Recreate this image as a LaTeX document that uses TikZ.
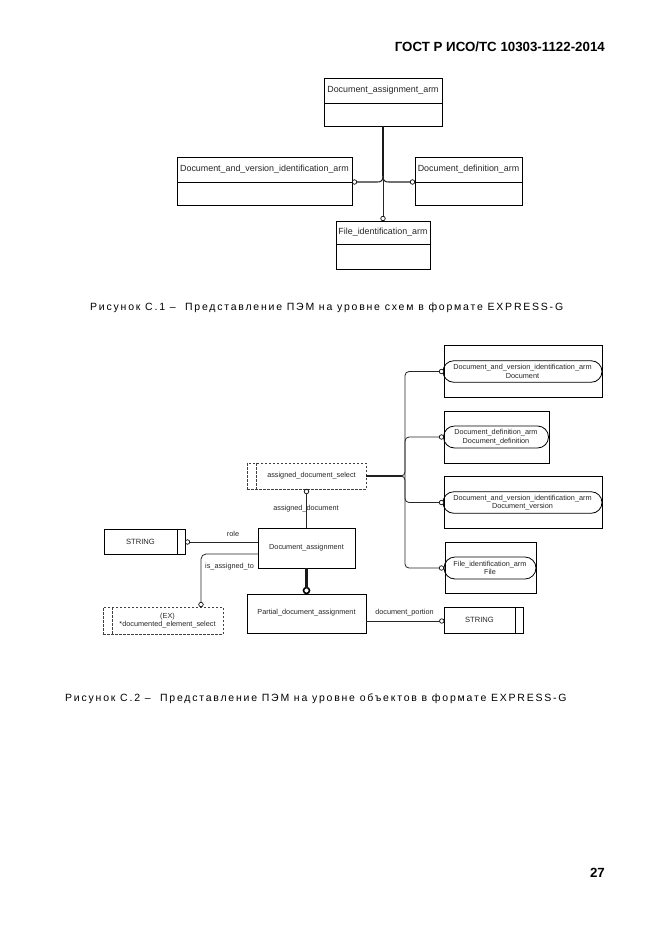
\documentclass[tikz,border=0pt]{standalone}
\usepackage{fontspec}
\setmainfont{Liberation Sans}
\newfontfamily\capfont[LetterSpace=17]{Liberation Sans}
\usetikzlibrary{shapes.misc,calc}
\begin{document}
\begin{tikzpicture}[x=1pt,y=-1pt,
 ebox/.style={draw, rectangle, inner sep=0pt, outer sep=0pt, line width=0.8pt},
 btxt/.style={inner sep=0pt, text=black!85, font=\fontsize{8.9}{10}\selectfont},
 stxt/.style={inner sep=0pt, text=black!85, font=\fontsize{7.3}{8.6}\selectfont, align=center},
 dbox/.style={draw=black!75, dash pattern=on 2.5pt off 1.5pt, line width=0.8pt, inner sep=0pt, outer sep=0pt},
 pill/.style={draw, rounded rectangle, inner sep=0pt, outer sep=0pt, line width=0.8pt},
 dot/.style={draw, circle, fill=white, inner sep=0pt, minimum size=4.5pt, line width=0.7pt, outer sep=0pt},
 bigdot/.style={draw, circle, fill=white, inner sep=0pt, minimum size=6pt, line width=1.6pt, outer sep=0pt},
 conn/.style={line width=0.8pt, draw=black!85},
 thickconn/.style={line width=1.4pt, draw=black!90},
 divider/.style={line width=0.8pt},
 captxt/.style={inner sep=0pt, font=\capfont\fontsize{10.5}{12}\selectfont},
 hdr/.style={inner sep=0pt, font=\bfseries\fontsize{13.3}{15}\selectfont},
]
\useasboundingbox[fill=white] (0,0) rectangle (661,935);

% header and page number
\node[hdr, anchor=base east] (hdr) at (605,51) {ГОСТ Р ИСО/ТС 10303-1122-2014};
\node[hdr, anchor=base east] (pg) at (605,877.5) {27};

% ---------- Figure C.1 ----------
\node[ebox, minimum width=118pt, minimum height=48pt] (daa) at (383,102) {};
\node[btxt] (daat) at (383,90.5) {Document\_assignment\_arm};
\draw[divider] (daa.west |- 0,103) -- (daa.east |- 0,103);

\node[ebox, minimum width=175pt, minimum height=48pt] (davia) at (264.5,181) {};
\node[btxt] (daviat) at (264.5,169) {Document\_and\_version\_identification\_arm};
\draw[divider] (davia.west |- 0,182) -- (davia.east |- 0,182);

\node[ebox, minimum width=107pt, minimum height=48pt] (dda) at (468.5,181) {};
\node[btxt] (ddat) at (468.5,169) {Document\_definition\_arm};
\draw[divider] (dda.west |- 0,182) -- (dda.east |- 0,182);

\node[ebox, minimum width=94pt, minimum height=48pt] (fia) at (383,245) {};
\node[btxt] (fiat) at (383,232.5) {File\_identification\_arm};
\draw[divider] (fia.west |- 0,244) -- (fia.east |- 0,244);

\node[dot] (cl) at (354.5,182) {};
\node[dot] (cr) at (412.5,182) {};
\node[dot] (cb) at (383,218.5) {};
\coordinate (j1) at (383,176);
\draw[thickconn] (daa.south) -- (j1);
\draw[conn, line width=1.1pt] (j1) .. controls (383,181) and (381,182) .. (377,182) -- (cl.east);
\draw[conn, line width=1.1pt] (j1) .. controls (383,181) and (385,182) .. (389,182) -- (cr.west);
\draw[conn] (j1) -- (cb.north);

\node[captxt, anchor=base west] (cap1) at (90,310.5) {Рисунок С.1 –\ \ Представление ПЭМ на уровне схем в формате EXPRESS-G};

% ---------- Figure C.2 ----------
% right-hand boxes
\node[ebox, minimum width=158pt, minimum height=52pt] (b1) at (523,371) {};
\node[pill, minimum width=159pt, minimum height=21.5pt] (p1) at (522.5,371.5) {};
\node[stxt] (p1t) at (p1.center) {Document\_and\_version\_identification\_arm\\Document};

\node[ebox, minimum width=105pt, minimum height=52pt] (b2) at (496.5,437) {};
\node[pill, minimum width=105pt, minimum height=22pt] (p2) at (496,437) {};
\node[stxt] (p2t) at (p2.center) {Document\_definition\_arm\\Document\_definition};

\node[ebox, minimum width=158pt, minimum height=52pt] (b3) at (523,502) {};
\node[pill, minimum width=159pt, minimum height=21.5pt] (p3) at (522.5,502.5) {};
\node[stxt] (p3t) at (p3.center) {Document\_and\_version\_identification\_arm\\Document\_version};

\node[ebox, minimum width=91pt, minimum height=51pt] (b4) at (490.5,567.5) {};
\node[pill, minimum width=92pt, minimum height=22pt] (p4) at (490,568) {};
\node[stxt] (p4t) at (p4.center) {File\_identification\_arm\\File};

\node[dot] (c1) at (441.5,371.5) {};
\node[dot] (c2) at (441.5,437) {};
\node[dot] (c3) at (441.5,502.5) {};
\node[dot] (c4) at (441.5,568) {};

% select box
\node[dbox, minimum width=119pt, minimum height=26pt] (sel) at (306.5,476) {};
\draw[dbox] (sel.north west -| 256,0) -- (sel.south west -| 256,0);
\node[stxt] (selt) at (311.5,476) {assigned\_document\_select};

% bus
\coordinate (bj) at (405,476);
\draw[thickconn, line width=1.3pt] (sel.east) -- ([xshift=-3pt]bj);
\draw[conn, rounded corners=4pt] (sel.east) -- (bj) -- (bj |- c1) -- (c1.west);
\draw[conn, rounded corners=4pt] (sel.east) -- (bj) -- (bj |- c4) -- (c4.west);
\draw[conn, rounded corners=4pt] (bj) -- (bj |- c2) -- (c2.west);
\draw[conn, rounded corners=4pt] (bj) -- (bj |- c3) -- (c3.west);

% Document_assignment
\node[ebox, minimum width=97pt, minimum height=40pt] (da) at (306.5,548) {};
\node[stxt] (dat) at (306.5,548) {Document\_assignment};
\node[dot] (csel) at (306.5,491.5) {};
\draw[conn] (csel.south) -- (da.north);
\node[stxt] (adl) at (306,509) {assigned\_document};

% STRING left
\node[ebox, minimum width=81pt, minimum height=25pt] (s1) at (144.5,541.5) {};
\draw[divider] (s1.north west -| 177,0) -- (s1.south west -| 177,0);
\node[stxt, font=\fontsize{7.6}{9}\selectfont] (s1t) at (140.5,542) {STRING};
\node[dot] (crole) at (187.5,542) {};
\draw[conn] (crole.east) -- ([yshift=6pt]da.west);
\node[stxt] (rolel) at (233,533.5) {role};

% (EX) box
\node[dbox, minimum width=120pt, minimum height=27pt] (ex) at (163,620.5) {};
\draw[dbox] (ex.north west -| 112,0) -- (ex.south west -| 112,0);
\node[stxt] (ext) at (167.5,620.5) {(EX)\\*documented\_element\_select};
\node[dot] (cex) at (201,604.5) {};
\draw[conn, rounded corners=5pt] ([yshift=-6pt]da.west) -- (cex.north |- 0,554) -- (cex.north);
\node[stxt, anchor=west] (isl) at (205,567) {is\_assigned\_to};

% Partial
\node[ebox, minimum width=119pt, minimum height=39pt] (part) at (306.5,613.5) {};
\node[stxt] (partt) at (306.5,613) {Partial\_document\_assignment};
\node[bigdot] (cpart) at (306.5,590.5) {};
\draw[thickconn, line width=2.2pt] (da.south) -- (cpart.north);

% STRING right
\node[ebox, minimum width=79pt, minimum height=26pt] (s2) at (483.5,620) {};
\draw[divider] (s2.north west -| 515,0) -- (s2.south west -| 515,0);
\node[stxt, font=\fontsize{7.6}{9}\selectfont] (s2t) at (479.5,620) {STRING};
\node[dot] (cdp) at (441.8,621) {};
\draw[conn] ([yshift=-7.5pt]part.east) -- (cdp.west);
\node[stxt] (dpl) at (404.5,612.5) {document\_portion};

\node[captxt, anchor=base west] (cap2) at (65,701.5) {Рисунок С.2 –\ \ Представление ПЭМ на уровне объектов в формате EXPRESS-G};
\end{tikzpicture}
\end{document}
